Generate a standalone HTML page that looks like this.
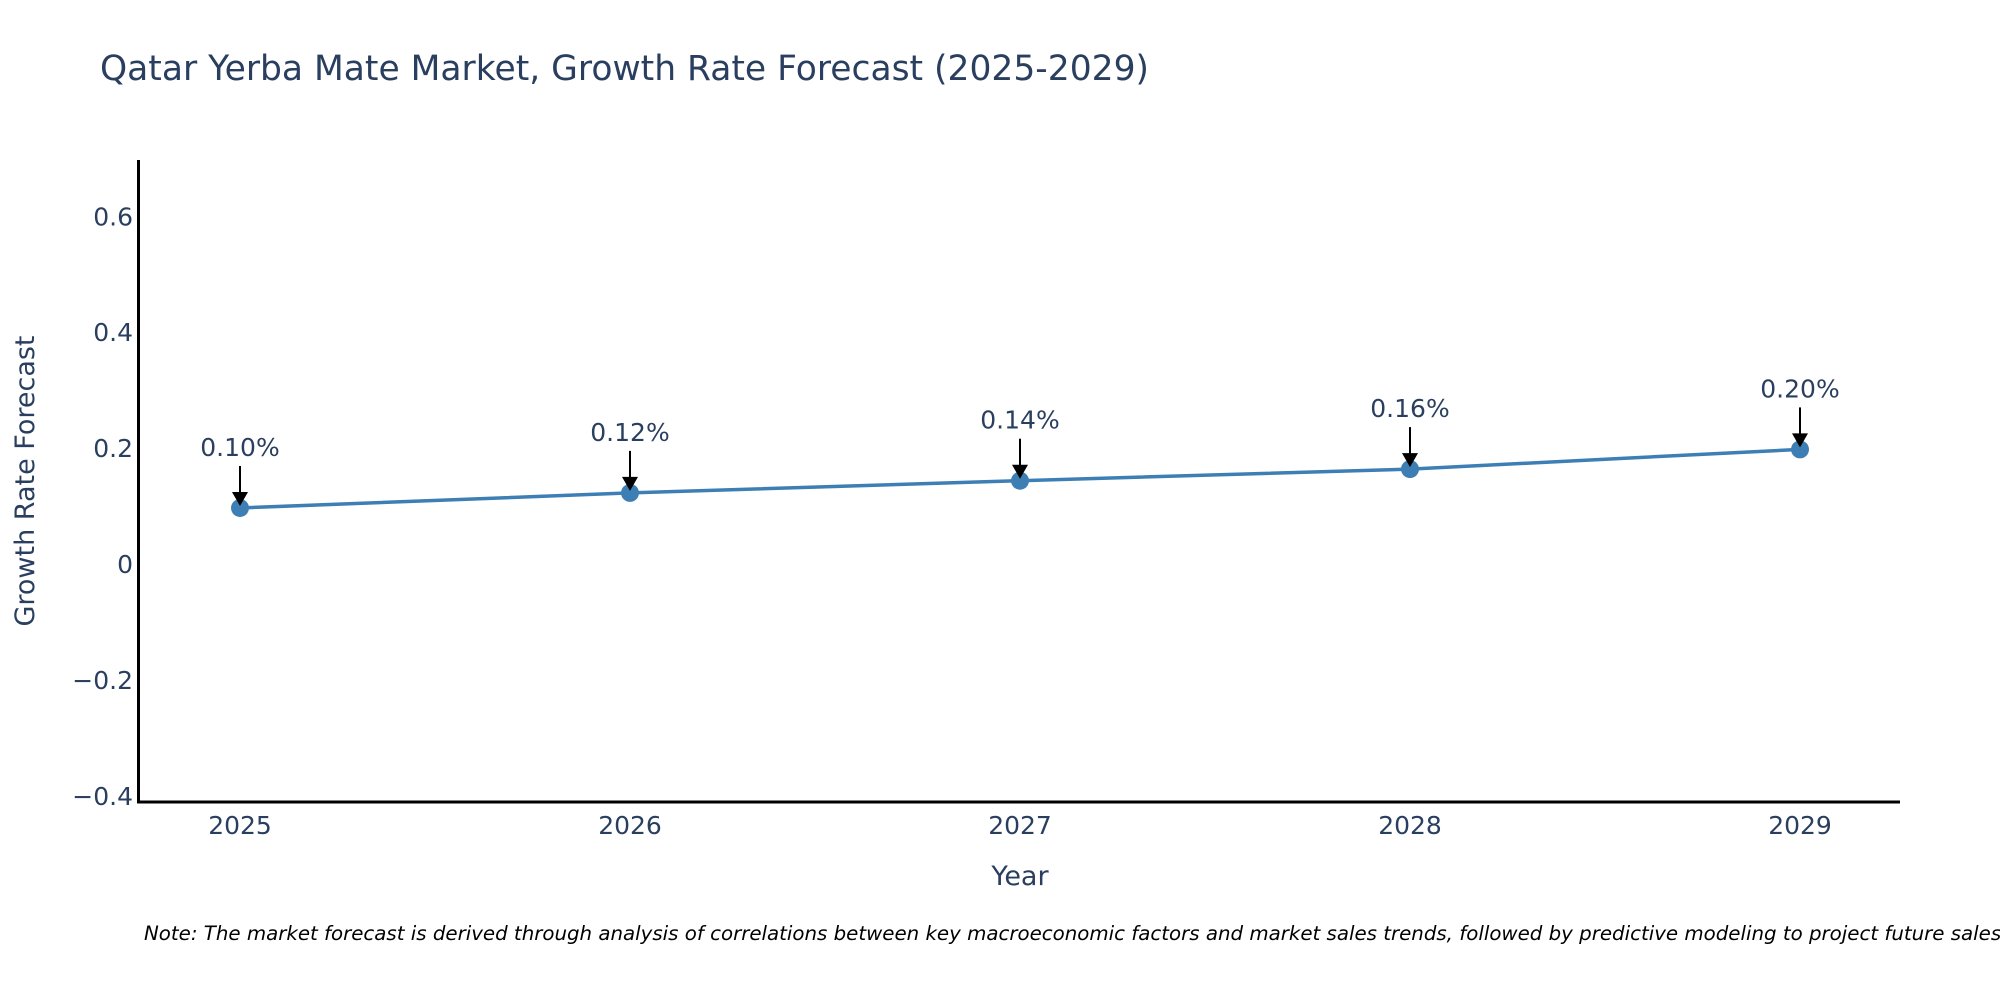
<!DOCTYPE html>
<html><head><meta charset="utf-8"><style>
body{margin:0;background:#fff;}
svg text{font-family:"DejaVu Sans","Liberation Sans",sans-serif;fill:#2a3f5f;}
</style></head><body>
<svg width="2000" height="1000" viewBox="0 0 2000 1000">
<text x="100" y="80" font-size="34.5">Qatar Yerba Mate Market, Growth Rate Forecast (2025-2029)</text>
<g id="yticks"></g><g id="xticks"></g>
<line x1="138.5" y1="160" x2="138.5" y2="803" stroke="#000" stroke-width="3"/>
<line x1="137" y1="802" x2="1900" y2="802" stroke="#000" stroke-width="3"/>
<g id="series"></g>
<text transform="translate(34,481) rotate(-90)" text-anchor="middle" font-size="27">Growth Rate Forecast</text>
<text x="1020" y="885" text-anchor="middle" font-size="27">Year</text>
<text x="144" y="940" font-size="19.8" font-style="italic" style="fill:#000">Note: The market forecast is derived through analysis of correlations between key macroeconomic factors and market sales trends, followed by predictive modeling to project future sales.</text>
</svg>
<script>
const years=["2025","2026","2027","2028","2029"];
const values=[0.097,0.123,0.144,0.164,0.198];
const labels=["0.10%","0.12%","0.14%","0.16%","0.20%"];
const yTicks=[-0.4,-0.2,0,0.2,0.4,0.6];
const yTickLabels=["\u22120.4","\u22120.2","0","0.2","0.4","0.6"];
const NS="http://www.w3.org/2000/svg";
const yMin=-0.41,yMax=0.697,pTop=160,pBot=802;
function ys(v){return pBot-(v-yMin)/(yMax-yMin)*(pBot-pTop);}
function xs(i){return 240+i*390;}
function mk(t,a,p){const e=document.createElementNS(NS,t);for(const k in a)e.setAttribute(k,a[k]);p.appendChild(e);return e;}
const yt=document.getElementById('yticks');
yTicks.forEach((v,i)=>{const t=mk('text',{x:133,y:ys(v)+9,'text-anchor':'end','font-size':25},yt);t.textContent=yTickLabels[i];

});
const xt=document.getElementById('xticks');
years.forEach((y,i)=>{const t=mk('text',{x:xs(i),y:834,'text-anchor':'middle','font-size':25},xt);t.textContent=y;

});
const s=document.getElementById('series');
const pl=mk('polyline',{points:values.map((v,i)=>xs(i)+','+ys(v)).join(' '),fill:'none',stroke:'#3d7fb5','stroke-width':3.5},s);


values.forEach((v,i)=>{const x=xs(i),y=ys(v);
const c=mk('circle',{cx:x,cy:y,r:9,fill:'#3d7fb5'},s);


const l=mk('line',{x1:x,y1:y-42,x2:x,y2:y-14,stroke:'#000','stroke-width':2},s);


const h=mk('polygon',{points:`${x-8},${y-16} ${x+8},${y-16} ${x},${y-2}`,fill:'#000'},s);


const t=mk('text',{x:x,y:y-52,'text-anchor':'middle','font-size':25},s);t.textContent=labels[i];

});
</script>
</body></html>
